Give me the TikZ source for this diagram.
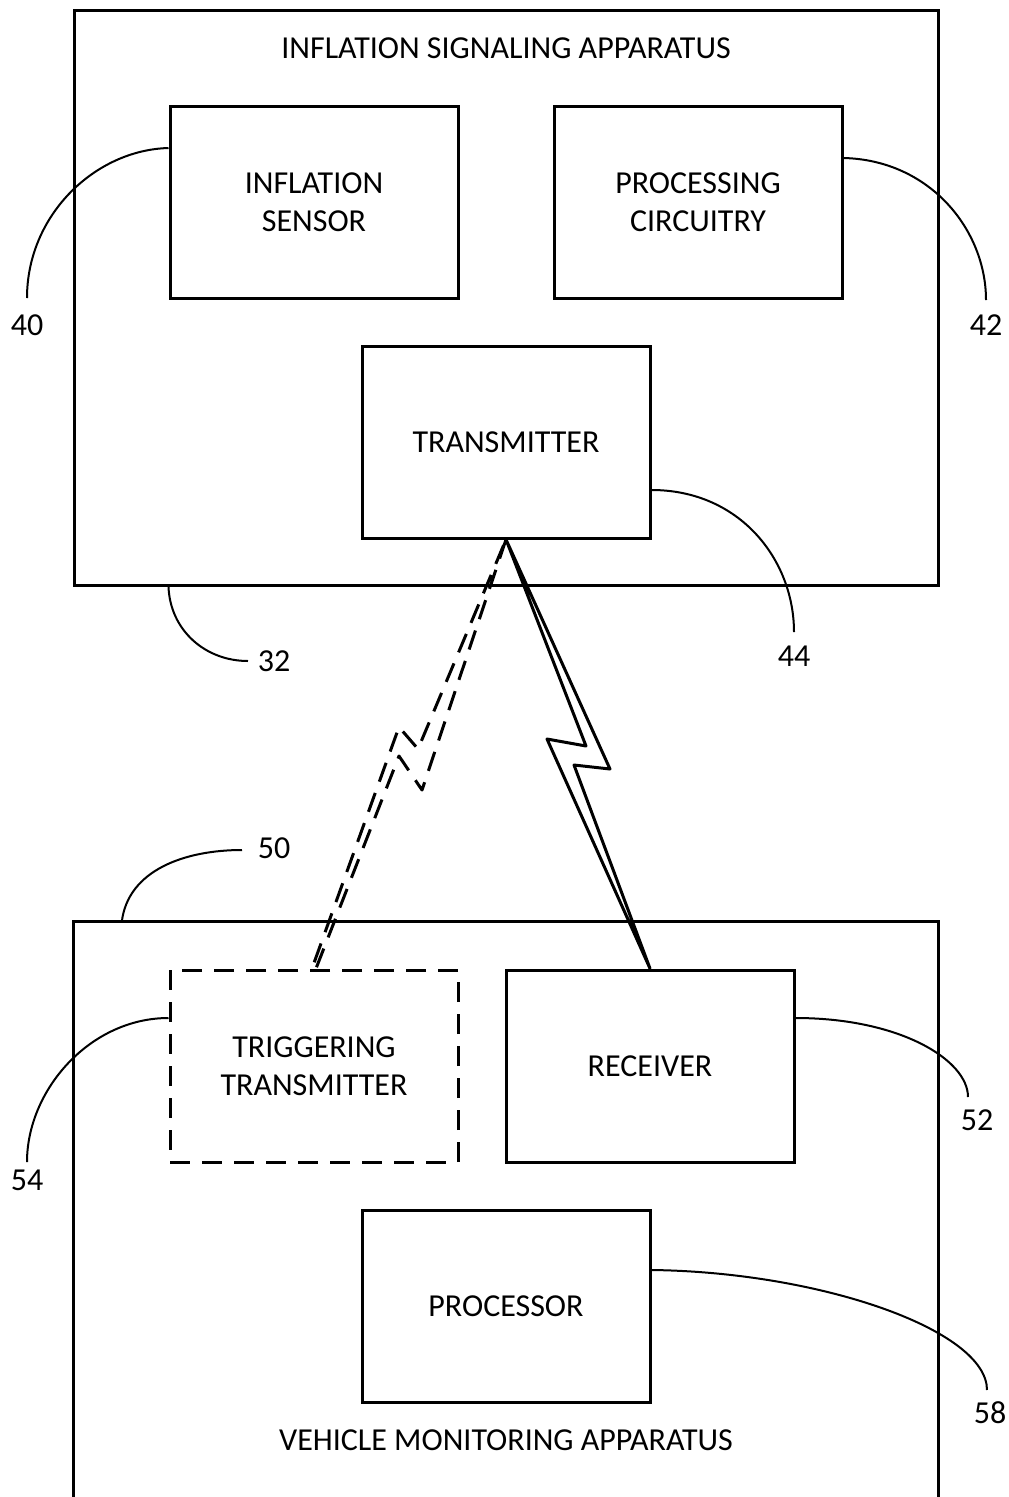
\documentclass[tikz,border=0pt]{standalone}
\usepackage{fontspec}
\setmainfont{Carlito}
\newcommand\reffont{\fontsize{32}{38}\selectfont}
\begin{document}
\begin{tikzpicture}[x=1pt,y=-1pt,
  box/.style={draw, line width=3pt, minimum width=288pt, minimum height=192pt, align=center, inner sep=0pt, font=\reffont},
  frame/.style={line width=3pt},
  lead/.style={line width=2pt},
  lbl/.style={inner sep=0pt, font=\reffont},
  txt/.style={inner sep=0pt, font=\reffont, align=center},
  dsh/.style={dash pattern=on 20pt off 12pt},
  bolt/.style={line width=3pt, line join=round}]
\useasboundingbox[fill=white] (0,0) rectangle (1009,1497);

% outer boxes
\node[draw, frame, minimum width=864pt, minimum height=575pt, inner sep=0pt] (isa) at (506,297.5) {};
\node[txt] (isat) at (506,48) {INFLATION SIGNALING APPARATUS};
\node[minimum width=864pt, minimum height=575pt, inner sep=0pt] (vma) at (506,1209.5) {};
\draw[frame] (vma.south west) -- (vma.north west) -- (vma.north east) -- (vma.south east);
\node[txt] (vmat) at (506,1440) {VEHICLE MONITORING APPARATUS};

% inner boxes
\node[box] (sensor) at (314,202) {INFLATION\\SENSOR};
\node[box] (proc) at (698,202) {PROCESSING\\CIRCUITRY};
\node[box] (tx) at (506,442) {TRANSMITTER};
\node[box, dsh] (trig) at (314,1066) {TRIGGERING\\TRANSMITTER};
\node[box] (rx) at (650,1066) {RECEIVER};
\node[box] (pr) at (506,1306) {PROCESSOR};

% reference labels
\node[lbl] (l40) at (27,325) {40};
\node[lbl] (l42) at (986,325) {42};
\node[lbl] (l44) at (794,656) {44};
\node[lbl] (l32) at (274,661) {32};
\node[lbl] (l50) at (274,848) {50};
\node[lbl] (l54) at (27,1180) {54};
\node[lbl] (l52) at (977,1120) {52};
\node[lbl] (l58) at (990,1413) {58};

\coordinate (e40) at (27,298);
\coordinate (e42) at (986,300);
\coordinate (e44) at (794,632);
\coordinate (e32) at (248,661);
\coordinate (e50) at (242,850);
\coordinate (e54) at (27,1162);
\coordinate (e52) at (968,1097);
\coordinate (e58) at (987,1390);

% leader curves
\draw[lead] ([yshift=54pt]sensor.west) .. controls (95,150) and (27,215) .. (e40);
\draw[lead] ([yshift=44pt]proc.east) .. controls (930,160) and (986,230) .. (e42);
\draw[lead] ([yshift=-48pt]tx.east) .. controls (740,490) and (794,560) .. (e44);
\draw[lead] ([xshift=96pt]isa.south west) .. controls (170,630) and (205,661) .. (e32);
\draw[lead] ([xshift=48pt]vma.north west) .. controls (128,870) and (185,850) .. (e50);
\draw[lead] ([yshift=48pt]trig.west) .. controls (90,1018) and (27,1090) .. (e54);
\draw[lead] ([yshift=48pt]rx.east) .. controls (900,1018) and (968,1060) .. (e52);
\draw[lead] ([yshift=36pt]pr.east) .. controls (820,1272) and (987,1330) .. (e58);

% lightning bolts
\draw[bolt] (tx.south) -- (586,746) -- (547,739) -- (rx.north) -- (574,765) -- (610,769) -- cycle;
\draw[bolt, dsh] (tx.south) -- (422,790) -- (399,756) -- ([xshift=2pt]trig.north) -- ([xshift=-2pt]trig.north) -- (399,727) -- (418,749) -- cycle;
\end{tikzpicture}
\end{document}
